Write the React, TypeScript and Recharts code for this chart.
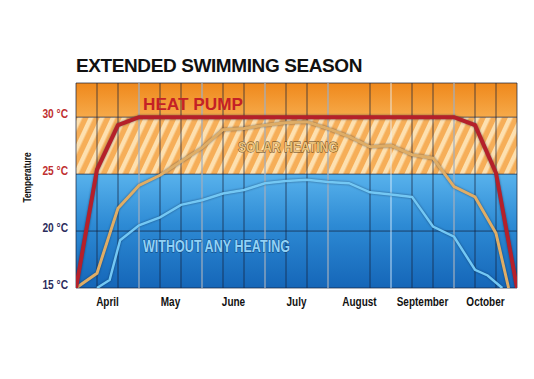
import {
  LineChart,
  Line,
  XAxis,
  YAxis,
  CartesianGrid,
  ReferenceArea,
  ReferenceLine,
  ReferenceDot,
} from 'recharts';

// ten-day periods from 1 April (0) to end of October (21)
const PERIOD_TICKS = [0, 1, 2, 3, 4, 5, 6, 7, 8, 9, 10, 11, 12, 13, 14, 15, 16, 17, 18, 19, 20, 21];
const MONTHS = ['April', 'May', 'June', 'July', 'August', 'September', 'October'];
const MONTH_TICKS = [1.5, 4.5, 7.5, 10.5, 13.5, 16.5, 19.5];
const MONTH_EDGES = [3, 6, 9, 12, 15, 18];
const TEMP_TICKS = [15, 20, 25, 30];

const HEAT_PUMP_X = [0, 1, 2, 3, 18, 19, 20, 21];
const HEAT_PUMP_T = [15, 25.4, 29.3, 30, 30, 29.3, 25.1, 15];

const SOLAR_X = [0, 1, 2, 3, 4, 5, 6, 7, 8, 9, 10, 11, 12, 13, 14, 15, 16, 17, 18, 19, 20, 20.6];
const SOLAR_T = [15, 16.3, 22.0, 24.0, 24.9, 26.1, 27.3, 28.9, 29.0, 29.3, 29.5, 29.6, 29.0, 28.3, 27.4, 27.5, 26.7, 26.4, 23.9, 23.0, 19.8, 15];

const NO_HEAT_X = [1, 1.6, 2.1, 3, 4, 5, 6, 7, 8, 9, 10, 11, 12, 13, 14, 15, 16, 17, 18, 19, 19.6, 20.3];
const NO_HEAT_T = [15, 15.7, 19.2, 20.5, 21.2, 22.3, 22.7, 23.3, 23.6, 24.2, 24.4, 24.5, 24.3, 24.2, 23.4, 23.2, 23.0, 20.4, 19.5, 16.6, 16.1, 15];

const periods = PERIOD_TICKS.map((x) => ({ x }));
const heatPump = HEAT_PUMP_X.map((x, i) => ({ x, t: HEAT_PUMP_T[i] }));
const solar = SOLAR_X.map((x, i) => ({ x, t: SOLAR_T[i] }));
const noHeat = NO_HEAT_X.map((x, i) => ({ x, t: NO_HEAT_T[i] }));

const SANS = "'Liberation Sans', Arial, sans-serif";

// squeezed bold text, stands in for a condensed face
const Narrow = ({ x, y, size, fill, anchor, squeeze, children, rotate }: any) => (
  <text transform={`translate(${x} ${y})${rotate ? ` rotate(${rotate})` : ''} scale(${squeeze} 1)`}
    textAnchor={anchor} fontFamily={SANS} fontWeight="bold" fontSize={size} fill={fill}>
    {children}
  </text>
);

const YTick = (props: any) => {
  const { x, y, payload } = props;
  const hot = payload.value >= 25;
  return (
    <Narrow x={x} y={y + 1} size={12} squeeze={0.85} anchor="end" fill={hot ? '#c0302f' : '#2c2d5c'}>
      {`${payload.value} °C`}
    </Narrow>
  );
};

const MonthTick = (props: any) => {
  const { x, y, payload } = props;
  return (
    <Narrow x={x} y={y + 10} size={12.5} squeeze={0.8} anchor="middle" fill="#111">
      {MONTHS[MONTH_TICKS.indexOf(payload.value)]}
    </Narrow>
  );
};

const tagLabel = (text: string, fill: string, size: number, width: number, stroke?: string) => (props: any) => {
  const vb = props.viewBox || {};
  return (
    <text x={vb.x} y={vb.y} fontFamily={SANS} fontWeight="bold" fontSize={size} fill={fill}
      textLength={width} lengthAdjust="spacingAndGlyphs"
      stroke={stroke || 'none'} strokeWidth={stroke ? 0.9 : 0} paintOrder="stroke">
      {text}
    </text>
  );
};

export default function App() {
  return (
    <div style={{ position: 'absolute', left: 0, top: 0, width: 534, height: 379, background: '#fff' }}>
      <style>{'.recharts-line-curve { filter: drop-shadow(0 0 1px rgba(10,30,60,0.55)); }'}</style>
      <div style={{
        position: 'absolute', left: 76, top: 56, fontFamily: SANS,
        fontWeight: 'bold', fontSize: 19, lineHeight: '19px', letterSpacing: -0.4, color: '#111', whiteSpace: 'nowrap',
      }}>
        EXTENDED SWIMMING SEASON
      </div>
      <LineChart width={534} height={379} data={periods} margin={{ top: 83, right: 17, bottom: 61, left: 0 }}>
        <defs>
          <linearGradient id="topBand" x1="0" y1="0" x2="0" y2="1">
            <stop offset="0%" stopColor="#ef881b" />
            <stop offset="100%" stopColor="#f6aa4a" />
          </linearGradient>
          <pattern id="hatch" width="10" height="10" patternUnits="userSpaceOnUse" patternTransform="rotate(25)">
            <rect width="10" height="10" fill="#f6ae58" />
            <rect width="4.5" height="10" fill="#fde0b0" />
          </pattern>
          <linearGradient id="blueBand" x1="0" y1="0" x2="0" y2="1">
            <stop offset="0%" stopColor="#58b2ec" />
            <stop offset="45%" stopColor="#2d8ad4" />
            <stop offset="100%" stopColor="#1566b8" />
          </linearGradient>
        </defs>
        <ReferenceArea xAxisId="p" y1={30} y2={33} fill="url(#topBand)" fillOpacity={1} stroke="none" zIndex={-300} />
        <ReferenceArea xAxisId="p" y1={25} y2={30} fill="url(#hatch)" fillOpacity={1} stroke="none" zIndex={-300} />
        <ReferenceArea xAxisId="p" y1={15} y2={25} fill="url(#blueBand)" fillOpacity={1} stroke="none" zIndex={-300} />
        <CartesianGrid xAxisId="p" stroke="#14203a" strokeOpacity={0.7} strokeDasharray="" zIndex={-200} />
        {MONTH_EDGES.map((m) => (
          <ReferenceLine key={m} xAxisId="p" x={m} stroke="#e6f4ff" strokeOpacity={0.7} strokeWidth={1.2} zIndex={-150} />
        ))}
        <XAxis xAxisId="p" type="number" dataKey="x" domain={[0, 21]} ticks={PERIOD_TICKS} allowDataOverflow hide />
        <XAxis xAxisId="m" type="number" dataKey="x" domain={[0, 21]} ticks={MONTH_TICKS} interval={0}
          axisLine={false} tickLine={false} tick={<MonthTick />} />
        <YAxis type="number" domain={[15, 33]} ticks={TEMP_TICKS} width={76} axisLine={false} tickLine={false}
          allowDataOverflow tick={<YTick />}
          label={{
            content: (p: any) => {
              const vb = p.viewBox || { x: 0, y: 83, height: 205 };
              return (
                <Narrow x={vb.x + 31} y={vb.y + vb.height / 2 - 8} rotate={-90} size={10.5} squeeze={0.8} anchor="middle" fill="#111">
                  Temperature
                </Narrow>
              );
            },
          }} />
        <Line xAxisId="p" data={noHeat} dataKey="t" type="linear" dot={false} stroke="#74c8f4" strokeWidth={2.5} isAnimationActive={false} />
        <Line xAxisId="p" data={solar} dataKey="t" type="linear" dot={false} stroke="#dfad66" strokeWidth={3} isAnimationActive={false} />
        <Line xAxisId="p" data={heatPump} dataKey="t" type="linear" dot={false} stroke="#b5202a" strokeWidth={4} isAnimationActive={false} />
        <ReferenceDot xAxisId="p" x={3.19} y={30.6} r={0} fill="none" stroke="none"
          label={tagLabel('HEAT PUMP', '#c42126', 16.5, 100)} />
        <ReferenceDot xAxisId="p" x={7.71} y={26.9} r={0} fill="none" stroke="none"
          label={tagLabel('SOLAR HEATING', '#ecc27c', 14.5, 100, '#5b3d12')} />
        <ReferenceDot xAxisId="p" x={3.19} y={18.16} r={0} fill="none" stroke="none"
          label={tagLabel('WITHOUT ANY HEATING', '#92d2f6', 16.5, 147, '#0b3e74')} />
      </LineChart>
    </div>
  );
}
